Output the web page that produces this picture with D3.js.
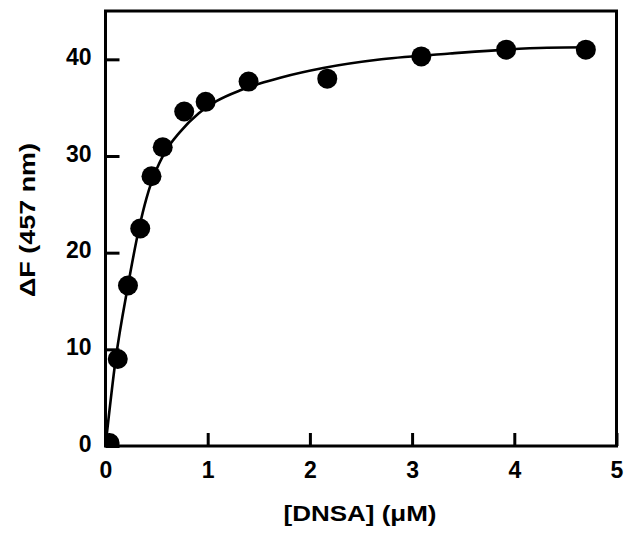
<!DOCTYPE html>
<html>
<head>
<meta charset="utf-8">
<script src="https://cdn.jsdelivr.net/npm/d3@7"></script>
<style>
  body { margin: 0; background: #fff; }
  text { font-family: "Liberation Sans", Arial, sans-serif; font-weight: bold; }
</style>
</head>
<body>
<svg width="629" height="535"></svg>
<script>
// titration data: DNSA concentration (uM) vs fluorescence change
var concX = [0.04, 0.12, 0.22, 0.34, 0.45, 0.56, 0.77, 0.98, 1.40, 2.17, 3.09, 3.92, 4.70];
var deltaF = [0.3, 9.0, 16.6, 22.5, 27.9, 30.9, 34.6, 35.6, 37.7, 38.0, 40.3, 41.0, 41.0];

// fitted curve
var fitX = [0, 0.10, 0.22, 0.33, 0.40, 0.45, 0.566, 0.73, 0.91, 1.09, 1.32, 1.51, 1.71, 2.13, 2.70, 3.37, 4.32, 4.75];
var fitY = [0, 9.0, 16.6, 22.6, 25.6, 27.3, 30.1, 32.5, 34.4, 35.7, 36.8, 37.5, 38.1, 39.1, 40.0, 40.6, 41.2, 41.25];

var xTicks = [0, 1, 2, 3, 4, 5];
var yTicks = [0, 10, 20, 30, 40];

var svg = d3.select("svg"),
    plotLeft = 105.5, plotRight = 616.5,
    plotTop = 11, plotBottom = 446;

var xScale = d3.scaleLinear().domain([0, 5]).range([plotLeft, plotRight]),
    yScale = d3.scaleLinear().domain([0, 45]).range([plotBottom, plotTop]);

// clip marks to the frame
svg.append("clipPath").attr("id", "plot")
   .append("rect")
   .attr("x", plotLeft).attr("y", plotTop)
   .attr("width", plotRight - plotLeft).attr("height", plotBottom - plotTop);

var canvas = svg.append("g").attr("clip-path", "url(#plot)");

// fit line
var line = d3.line()
    .x(function(d) { return xScale(d[0]); })
    .y(function(d) { return yScale(d[1]); })
    .curve(d3.curveMonotoneX);

canvas.append("path")
      .datum(d3.zip(fitX, fitY))
      .attr("fill", "none")
      .attr("stroke", "#000")
      .attr("stroke-width", 2.6)
      .attr("d", line);

// data points
canvas.selectAll("circle")
      .data(d3.zip(concX, deltaF))
      .enter().append("circle")
      .attr("cx", function(d) { return xScale(d[0]); })
      .attr("cy", function(d) { return yScale(d[1]); })
      .attr("r", 10)
      .attr("fill", "#000");

// frame
svg.append("rect")
   .attr("x", plotLeft).attr("y", plotTop)
   .attr("width", plotRight - plotLeft).attr("height", plotBottom - plotTop)
   .attr("fill", "none")
   .attr("stroke", "#000")
   .attr("stroke-width", 3);

// axes with inward ticks
var xAxis = d3.axisBottom(xScale).tickValues(xTicks).tickFormat(d3.format("d"))
              .tickSizeInner(-13).tickSizeOuter(0);
var yAxis = d3.axisLeft(yScale).tickValues(yTicks).tickFormat(d3.format("d"))
              .tickSizeInner(-14).tickSizeOuter(0);

var gx = svg.append("g")
            .attr("transform", "translate(0," + plotBottom + ")")
            .call(xAxis);
var gy = svg.append("g")
            .attr("transform", "translate(" + plotLeft + ",0)")
            .call(yAxis);

[gx, gy].forEach(function(g) {
    g.select(".domain").remove();
    g.selectAll(".tick line").attr("stroke", "#000").attr("stroke-width", 3);
    g.selectAll(".tick text")
     .attr("fill", "#000")
     .style("font-size", "23px")
     .style("font-family", "'Liberation Sans', Arial, sans-serif")
     .style("font-weight", "bold");
});
gx.selectAll(".tick text").attr("y", 16);
gy.selectAll(".tick text").attr("x", -14).attr("dy", "0.22em");

// axis titles
svg.append("text")
   .attr("x", 360)
   .attr("y", 521)
   .attr("text-anchor", "middle")
   .attr("textLength", 153)
   .attr("lengthAdjust", "spacingAndGlyphs")
   .style("font-size", "22px")
   .text("[DNSA] (μM)");

svg.append("text")
   .attr("transform", "translate(35,220) rotate(-90)")
   .attr("text-anchor", "middle")
   .attr("textLength", 154)
   .attr("lengthAdjust", "spacingAndGlyphs")
   .style("font-size", "22px")
   .text("ΔF (457 nm)");
</script>
</body>
</html>
